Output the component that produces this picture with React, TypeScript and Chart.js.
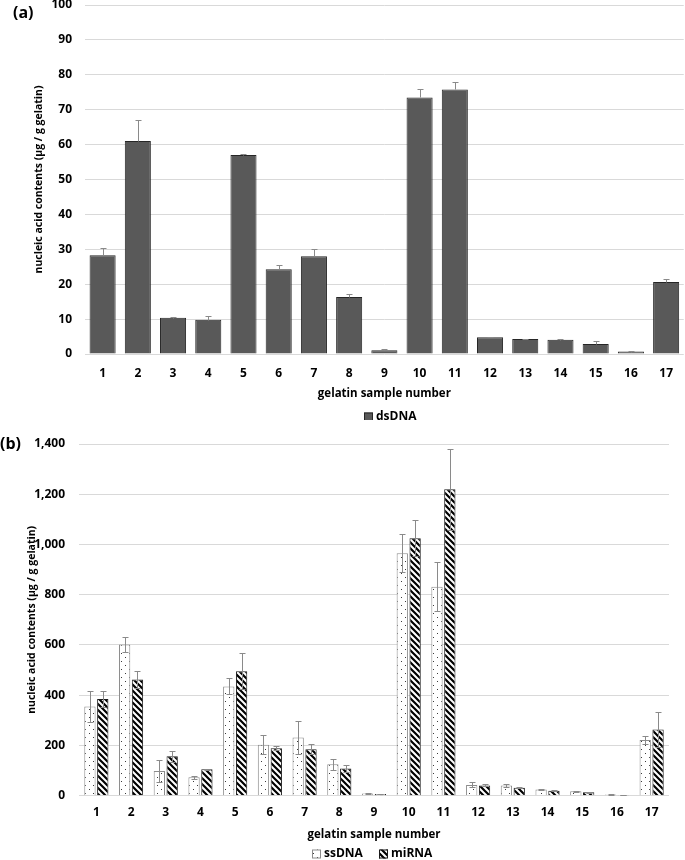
import React, { useEffect, useRef } from 'react';
import { Chart, registerables } from 'chart.js';

Chart.register(...registerables);

const FONT = '"Open Sans", "Noto Sans", "Liberation Sans", sans-serif';

const samples = ['1', '2', '3', '4', '5', '6', '7', '8', '9', '10', '11', '12', '13', '14', '15', '16', '17'];

const dsDNA = [28.3, 61, 10.4, 9.8, 57, 24.3, 28, 16.3, 1.1, 73.5, 75.8, 4.8, 4.3, 4.1, 2.9, 0.7, 20.6];
const dsDNAErr = [2, 6, 0.3, 1, 0.3, 1.1, 2.2, 1, 0.2, 2.3, 2.2, 0.2, 0.1, 0.2, 0.9, 0.2, 1];

const ssDNA = [355, 602, 98, 73, 435, 203, 232, 125, 9, 965, 832, 43, 41, 25, 18, 5, 222];
const ssDNAErr = [60, 28, 43, 7, 32, 37, 67, 22, 1, 75, 97, 10, 5, 2, 2, 1, 16];
const miRNA = [385, 463, 157, 105, 495, 189, 185, 108, 7, 1025, 1220, 41, 32, 20, 14, 3, 264];
const miRNAErr = [33, 33, 21, 3, 72, 7, 20, 13, 1, 72, 161, 4, 2, 2, 2, 1, 69];

const yTitle = 'nucleic acid contents (μg / g gelatin)';
const xTitle = 'gelatin sample number';

function dotPattern(): CanvasPattern | string {
  const c = document.createElement('canvas');
  c.width = 8; c.height = 8;
  const g = c.getContext('2d');
  if (!g) return '#fff';
  g.fillStyle = '#ffffff';
  g.fillRect(0, 0, 8, 8);
  g.fillStyle = '#3a3a3a';
  g.fillRect(1, 1, 1, 1);
  g.fillRect(5, 5, 1, 1);
  return g.createPattern(c, 'repeat') || '#fff';
}

function stripePattern(): CanvasPattern | string {
  const s = 6;
  const c = document.createElement('canvas');
  c.width = s; c.height = s;
  const g = c.getContext('2d');
  if (!g) return '#000';
  g.fillStyle = '#ffffff';
  g.fillRect(0, 0, s, s);
  g.strokeStyle = '#000000';
  g.lineWidth = 2.2;
  g.beginPath();
  for (const k of [-s, 0, s]) {
    g.moveTo(k - 1, -1);
    g.lineTo(k + s + 1, s + 1);
  }
  g.stroke();
  return g.createPattern(c, 'repeat') || '#000';
}

const errorBars = {
  id: 'errorBars',
  afterDatasetsDraw(chart: any) {
    const ctx = chart.ctx;
    const y = chart.scales.y;
    chart.data.datasets.forEach((ds: any, di: number) => {
      const errs = ds.errors as number[] | undefined;
      if (!errs) return;
      const meta = chart.getDatasetMeta(di);
      ctx.save();
      ctx.strokeStyle = '#8a8a8a';
      ctx.lineWidth = 1;
      meta.data.forEach((el: any, i: number) => {
        const v = ds.data[i] as number;
        const e = errs[i];
        const x = Math.round(el.x) + 0.5;
        const top = Math.round(y.getPixelForValue(v + e)) + 0.5;
        const bot = ds.errBoth
          ? Math.round(y.getPixelForValue(Math.max(0, v - e))) + 0.5
          : Math.round(y.getPixelForValue(v)) + 0.5;
        ctx.beginPath();
        ctx.moveTo(x, top);
        ctx.lineTo(x, bot);
        ctx.moveTo(x - 3, top);
        ctx.lineTo(x + 3, top);
        if (ds.errBoth) {
          ctx.moveTo(x - 3, bot);
          ctx.lineTo(x + 3, bot);
        }
        ctx.stroke();
      });
      ctx.restore();
    });
  },
};

const panelPlugin = {
  id: 'panel',
  afterDraw(chart: any, _args: any, opts: any) {
    const ctx = chart.ctx;
    ctx.save();
    ctx.fillStyle = '#000';
    ctx.textBaseline = 'middle';
    ctx.textAlign = 'left';
    ctx.font = `bold 16px ${FONT}`;
    ctx.fillText(opts.label, opts.lx, opts.ly);
    ctx.font = `bold 12px ${FONT}`;
    (opts.items || []).forEach((it: any, i: number) => {
      const ds = chart.data.datasets[i];
      const bx = it.x;
      const by = opts.legendY - 4.5;
      ctx.fillStyle = ds.backgroundColor;
      ctx.fillRect(bx, by, 9, 9);
      ctx.strokeStyle = it.stroke;
      ctx.lineWidth = 1;
      ctx.strokeRect(bx + 0.5, by + 0.5, 8, 8);
      ctx.fillStyle = '#000';
      ctx.fillText(ds.label, bx + 12, opts.legendY);
    });
    ctx.restore();
  },
};

const tickFont = { family: FONT, size: 12, weight: 'bold' as const };
const titleFont = { family: FONT, size: 11.5, weight: 'bold' as const };
const yTitleFont = { family: FONT, size: 10.5, weight: 'bold' as const };

function ChartA() {
  const ref = useRef<HTMLCanvasElement>(null);
  useEffect(() => {
    if (!ref.current) return;
    const chart = new Chart(ref.current, {
      type: 'bar',
      data: {
        labels: samples,
        datasets: [
          {
            label: 'dsDNA',
            data: dsDNA,
            backgroundColor: '#595959',
            borderColor: '#262626',
            borderWidth: 1,
            categoryPercentage: 0.74,
            barPercentage: 1,
            errors: dsDNAErr,
            errBoth: false,
          } as any,
        ],
      },
      options: {
        animation: false,
        responsive: false,
        maintainAspectRatio: false,
        layout: { padding: { left: 33, top: 5, right: 0, bottom: 16 } },
        plugins: {
          legend: { display: false },
          tooltip: { enabled: false },
          panel: { label: '(a)', lx: 13, ly: 13, legendY: 417, items: [{ x: 364, stroke: '#262626' }] },
        } as any,
        scales: {
          x: {
            grid: { display: false, drawTicks: false },
            border: { display: false },
            ticks: { padding: 12, font: tickFont, color: '#000' },
            title: { display: true, text: xTitle, font: titleFont, color: '#000', padding: { top: 0, bottom: 3 } },
            afterFit: (s: any) => { s.height = 50; },
          },
          y: {
            min: 0,
            max: 100,
            ticks: { stepSize: 10, padding: 13, font: tickFont, color: '#000' },
            grid: { color: '#d9d9d9', drawTicks: false },
            border: { display: false },
            title: { display: true, text: yTitle, font: yTitleFont, color: '#000', padding: { top: 0, bottom: 0 } },
            afterFit: (s: any) => { s.width = 52; s.paddingTop = 0; s.paddingBottom = 0; },
          },
        } as any,
      },
      plugins: [errorBars, panelPlugin],
    });
    return () => chart.destroy();
  }, []);
  return <canvas ref={ref} width={685} height={420} style={{ position: 'absolute', left: 0, top: 0 }} />;
}

function ChartB() {
  const ref = useRef<HTMLCanvasElement>(null);
  useEffect(() => {
    if (!ref.current) return;
    const dots = dotPattern();
    const stripes = stripePattern();
    const chart = new Chart(ref.current, {
      type: 'bar',
      data: {
        labels: samples,
        datasets: [
          {
            label: 'ssDNA',
            data: ssDNA,
            backgroundColor: dots,
            borderColor: '#8c8c8c',
            borderWidth: 1,
            categoryPercentage: 0.74,
            barPercentage: 0.88,
            errors: ssDNAErr,
            errBoth: true,
          } as any,
          {
            label: 'miRNA',
            data: miRNA,
            backgroundColor: stripes,
            borderColor: '#1a1a1a',
            borderWidth: 1,
            categoryPercentage: 0.74,
            barPercentage: 0.88,
            errors: miRNAErr,
            errBoth: true,
          } as any,
        ],
      },
      options: {
        animation: false,
        responsive: false,
        maintainAspectRatio: false,
        layout: { padding: { left: 26, top: 24, right: 16, bottom: 14 } },
        plugins: {
          legend: { display: false },
          tooltip: { enabled: false },
          panel: {
            label: '(b)', lx: 0, ly: 24, legendY: 434,
            items: [{ x: 312, stroke: '#8c8c8c' }, { x: 379, stroke: '#1a1a1a' }],
          },
        } as any,
        scales: {
          x: {
            grid: { display: false, drawTicks: false },
            border: { display: false },
            ticks: { padding: 10, font: tickFont, color: '#000' },
            title: { display: true, text: xTitle, font: titleFont, color: '#000', padding: { top: 0, bottom: 4 } },
            afterFit: (s: any) => { s.height = 50.3; },
          },
          y: {
            min: 0,
            max: 1400,
            ticks: {
              stepSize: 200,
              padding: 14,
              font: tickFont,
              color: '#000',
              callback: (v: any) => Number(v).toLocaleString('en-US'),
            },
            grid: { color: '#d9d9d9', drawTicks: false },
            border: { display: false },
            title: { display: true, text: yTitle, font: yTitleFont, color: '#000', padding: { top: 0, bottom: 0 } },
            afterFit: (s: any) => { s.width = 53; s.paddingTop = 0; s.paddingBottom = 0; },
          },
        } as any,
      },
      plugins: [errorBars, panelPlugin],
    });
    return () => chart.destroy();
  }, []);
  return <canvas ref={ref} width={685} height={440} style={{ position: 'absolute', left: 0, top: 420 }} />;
}

export default function App() {
  return (
    <div style={{ position: 'absolute', left: 0, top: 0, width: 685, height: 860, background: '#fff' }}>
      <ChartA />
      <ChartB />
    </div>
  );
}
